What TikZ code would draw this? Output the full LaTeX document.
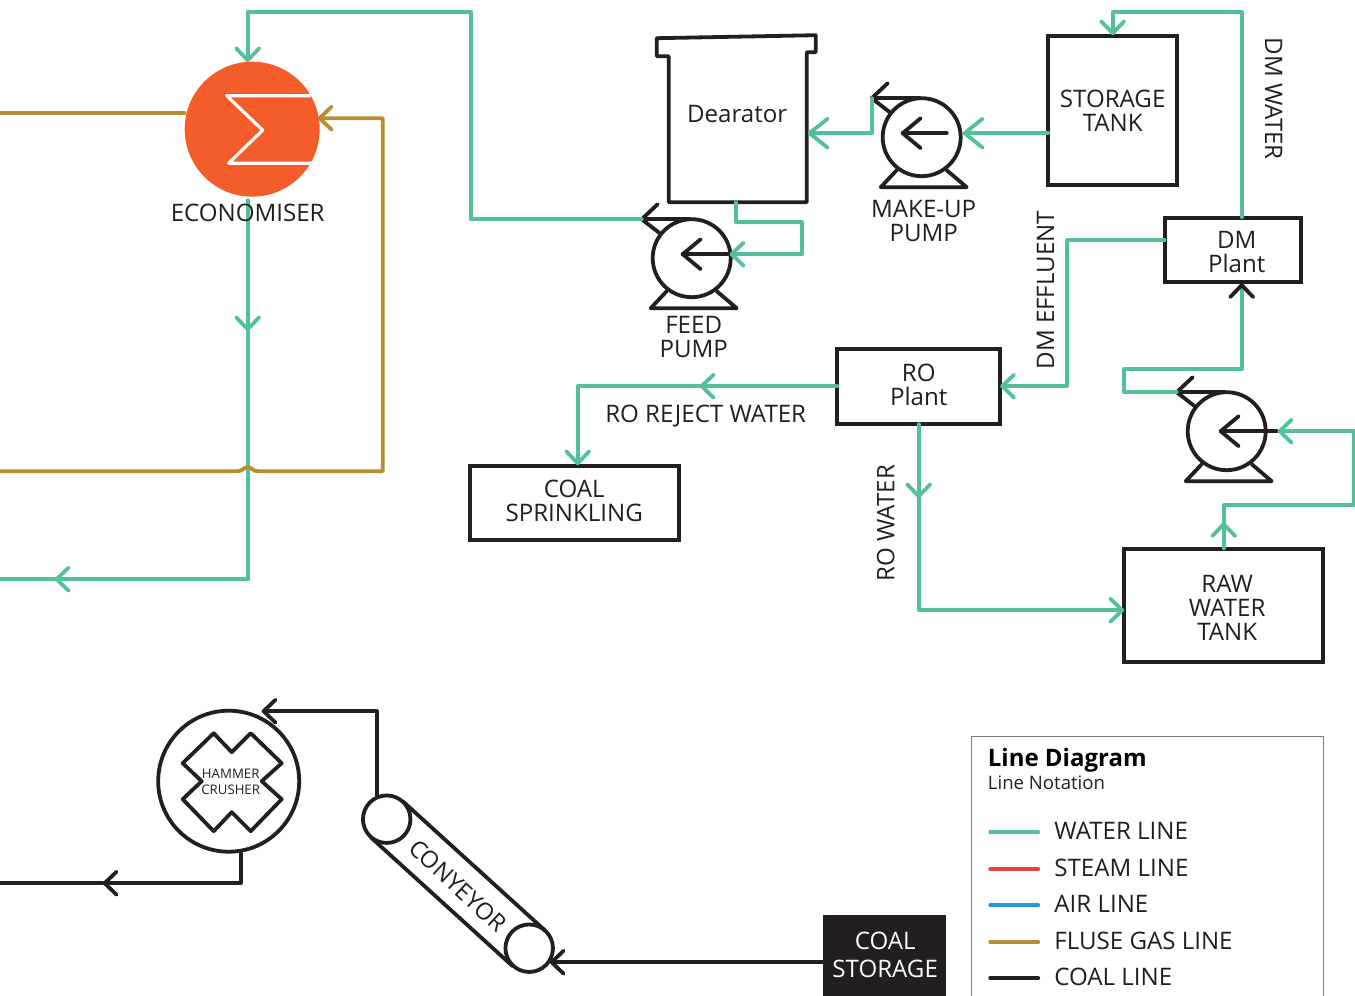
\documentclass[tikz,border=0pt]{standalone}
\usepackage{fontspec}
\setmainfont{Open Sans}
\usetikzlibrary{arrows.meta,calc}
\definecolor{watercolor}{RGB}{82,193,154}
\definecolor{steamcolor}{RGB}{239,65,54}
\definecolor{aircolor}{RGB}{28,154,214}
\definecolor{gascolor}{RGB}{182,141,47}
\definecolor{coalcolor}{RGB}{35,31,32}
\definecolor{econcolor}{RGB}{244,92,42}

\tikzset{
  barb/.tip={Straight Barb[length=12pt,width=23pt,round]},
  bigbarb/.tip={Straight Barb[length=18pt,width=29pt,round]},
  >=barb,
  pipe/.style={line width=3.8pt,line cap=round,line join=round},
  waterline/.style={pipe,draw=watercolor},
  gasline/.style={pipe,draw=gascolor},
  coalline/.style={pipe,draw=coalcolor},
  boxnode/.style={draw=coalcolor,line width=3.8pt,rectangle,outer sep=0pt,inner sep=0pt},
  ring/.style={draw=coalcolor,line width=3.8pt,circle,inner sep=0pt,outer sep=0pt},
  lbl/.style={inner sep=0pt,align=center,text=coalcolor!95!black,font=\fontsize{24.1}{24}\selectfont}
}

% name, centre, height of the inner arrow, its tip, its tail, end of the inlet
\newcommand{\pumpsym}[6]{
\begin{scope}[shift={(#2)}]
\node[ring,minimum size=78pt] (#1) at (0,0) {};
\coordinate (#1-out) at (-50,-39);
\coordinate (#1-in) at (#6,#3);
\draw[coalline] (-34,-54) -- (#1-out) -- (-32,-25);
\draw[coalline] (#1-out) -- (-2,-39);
\draw[coalline] (-25,33) -- (-41,50) -- (45,50) -- (25,33);
\draw[coalline] (#4,#3) ++(18,-15) -- ++(-18,15) -- ++(18,15);
\draw[coalline] (#4,#3) -- (#5,#3);
\end{scope}
}

\begin{document}
\begin{tikzpicture}[x=1pt,y=-1pt]
\clip (0.3,-0.2) rectangle (1355.3,995.8);

% ================= ECONOMISER =================
\node[circle,fill=econcolor,minimum size=135pt,inner sep=0pt,outer sep=0pt] (econ) at (252.5,129) {};
\draw[white,line width=3.2pt,line join=round] (311,95.5) -- (227,95.5) -- (263,130) -- (229,163) -- (312,163);

\coordinate (econin) at (248,62);
\coordinate (econdown) at (248,200);
\coordinate (econmid) at (248,331);
\coordinate (gasin) at (318,118);
\coordinate (waterexit) at (0,579);
\coordinate (gasexit) at (0,471);
\coordinate (gasfeed) at (0,113);

% ================= TANKS AND PLANTS =================
\draw[coalline] (657,38) -- (816,35) -- (816,52) -- (807,52) -- (807,202)
  -- (669,202) -- (669,56) -- (657,56) -- cycle;
\node[lbl] (dearator) at (737.5,114) {Dearator};
\coordinate (dearin) at (808,133);
\coordinate (dearout) at (736,202);

\pumpsym{feed}{692,258}{-4}{-9}{36}{38}
\pumpsym{makeup}{922,137}{-4}{-19}{25}{41}
\pumpsym{raw}{1227,431}{0}{-6}{50}{51}

\node[lbl] (feedlbl) at (694,337) {FEED\\PUMP};
\node[lbl] (makeuplbl) at (924,221) {MAKE-UP\\PUMP};

\node[boxnode,minimum width=129pt,minimum height=149pt] (storage) at (1113,110) {};
\node[lbl] (storagelbl) at (1113,110.5) {STORAGE\\TANK};
\node[boxnode,minimum width=136pt,minimum height=64pt] (dm) at (1233.5,249.5) {};
\node[lbl] (dmlbl) at (1237,251.5) {DM\\Plant};
\node[boxnode,minimum width=163pt,minimum height=75pt] (ro) at (919,386) {};
\node[lbl] (rolbl) at (919,384.5) {RO\\Plant};
\node[boxnode,minimum width=209pt,minimum height=74pt] (coal) at (574.5,502.5) {};
\node[lbl] (coallbl) at (574.5,501) {COAL\\SPRINKLING};
\node[boxnode,minimum width=199pt,minimum height=113pt] (rawtank) at (1224,605) {};
\node[lbl] (rawtanklbl) at (1227.5,608) {RAW\\WATER\\TANK};

% ================= WATER LINES =================
\draw[waterline,->] (econdown) -- (econmid);
\draw[waterline] (econmid) -- (248,579);
\draw[waterline,->] (248,579) -- (55,579);
\draw[waterline] (55,579) -- (waterexit);
\draw[waterline,->] (feed-out) -- (471,219) -- (471,12) -- (248,12) -- (econin);
\draw[waterline,->] (dearout) -- (736,222) -- (802,222) -- (802,254) -- (feed-in);
\draw[waterline,-bigbarb] (makeup-out) -- (872,133) -- (dearin);
\draw[waterline,-bigbarb] (storage.west |- makeup-in) -- (makeup-in);
\draw[waterline,->] (1242,217) -- (1242,12) -- (1113,12) -- (1113,35);
\draw[waterline,->] (1165,240) -- (1067,240) -- (1067,386) -- (ro.east);
\draw[waterline,->] (ro.west) -- (700,386);
\draw[waterline,->] (700,386) -- (578,386) -- (578,465);
\draw[waterline,->] (919,424) -- (919,498);
\draw[waterline,->] (919,498) -- (919,610) -- (rawtank.west |- 0,610);
\draw[waterline,->] (1224,548) -- (1224,522);
\draw[waterline,->] (1224,522) -- (1224,505) -- (1354,505) -- (1354,431) -- (raw-in);
\draw[pipe,draw=watercolor,-{barb[color=coalcolor]}] (raw-out) -- (1124,392) -- (1124,369) -- (1242,369) -- (1242,283);

\node[lbl,rotate=-90] (dmwater) at (1274,98.5) {DM WATER};
\node[lbl,rotate=90] (dmeffluent) at (1046,290) {DM EFFLUENT};
\node[lbl] (roreject) at (706,416) {RO REJECT WATER};
\node[lbl,rotate=90] (rowater) at (886,523) {RO WATER};

% ================= FLUE GAS LINES =================
\draw[gasline] (gasfeed) -- (econ.west |- gasfeed);
\draw[gasline,->] (gasexit) -- (238,471) .. controls (243,471) and (244,467) .. (248,467)
  .. controls (252,467) and (253,471) .. (258,471) -- (383,471) -- (383,118) -- (gasin);

\node[lbl] (econlbl) at (248,213) {ECONOMISER};

% ================= COAL HANDLING =================
\node[ring,minimum size=141pt] (crusher) at (229,781) {};
\draw[coalline] (214,733) -- (232,752) -- (251,733) -- (282,763) -- (262,781) -- (282,799)
  -- (251,831) -- (232,812) -- (214,831) -- (183,799) -- (202,781) -- (183,763) -- cycle;
\node[lbl,font=\fontsize{13.2}{16}\selectfont] (crusherlbl) at (231,781.5) {HAMMER\\CRUSHER};

\node[ring,minimum size=47.5pt] (rollertop) at (387,819) {};
\node[ring,minimum size=47.5pt] (rollerend) at (529.5,948) {};
\draw[coalline] (403,801) -- (545,930);
\draw[coalline] (371,837) -- (513,966);
\node[lbl,rotate=-43,font=\fontsize{23.6}{24}\selectfont] (conveyor) at (458,885.5) {CONYEYOR};

\node[rectangle,fill=coalcolor,inner sep=0pt,outer sep=0pt,minimum width=123pt,minimum height=81pt] (storagecoal) at (884.5,955.5) {};
\node[lbl,text=white,font=\fontsize{24.1}{28}\selectfont] (storagecoallbl) at (885.5,954.5) {COAL\\STORAGE};

\draw[coalline,->] (storagecoal.west |- 0,962) -- (550,962);
\draw[coalline,->] (377,795) -- (377,711) -- (262,711);
\draw[coalline,->] (241,853) -- (241,883) -- (103,883);
\draw[coalline] (103,883) -- (0,883);

% ================= LEGEND =================
\node[draw=coalcolor!60,line width=1pt,rectangle,minimum width=352pt,minimum height=290pt,inner sep=0pt,outer sep=0pt] (legend) at (1147.5,880.8) {};
\node[anchor=west,inner sep=0pt,font=\fontsize{24}{24}\selectfont\bfseries] (legtitle) at (988,760) {Line Diagram};
\node[anchor=west,inner sep=0pt,text=coalcolor,font=\fontsize{18.6}{18}\selectfont] (legsub) at (988,782.5) {Line Notation};
\foreach \i/\ypos/\lcol/\ltext in {1/830.5/watercolor/WATER LINE,2/867.5/steamcolor/STEAM LINE,3/903.5/aircolor/AIR LINE,4/940.5/gascolor/FLUSE GAS LINE,5/976.5/coalcolor/COAL LINE}
{
\node[lbl,anchor=west] (key\i) at (1054.5,\ypos) {\ltext};
\draw[pipe,draw=\lcol] ($(key\i.west)+(-64,1.5)$) -- ($(key\i.west)+(-16,1.5)$);
}

\end{tikzpicture}
\end{document}
